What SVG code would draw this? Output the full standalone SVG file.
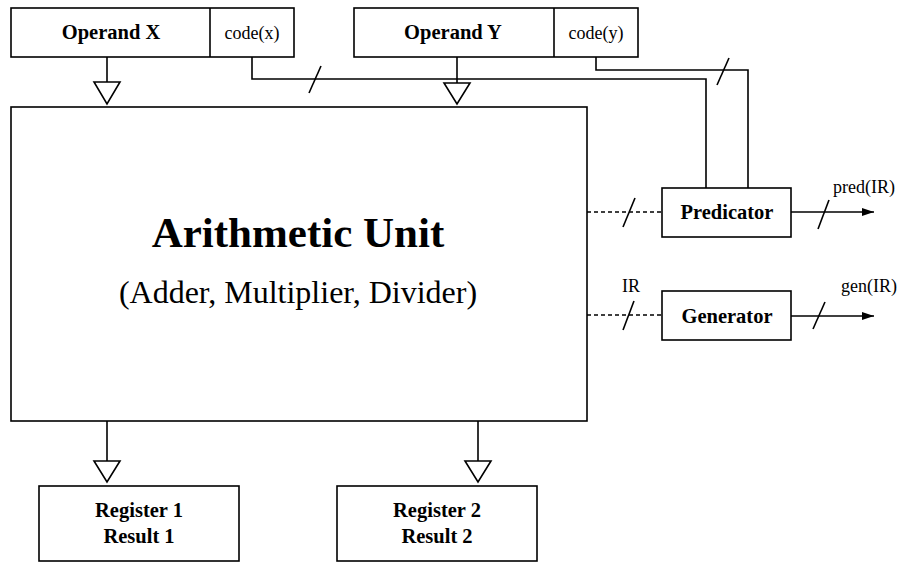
<svg xmlns="http://www.w3.org/2000/svg" width="899" height="563" viewBox="0 0 899 563">
  <style>
    .box { fill: #fff; stroke: #000; stroke-width: 1.6; }
    .ln { fill: none; stroke: #000; stroke-width: 1.6; }
    .dash { fill: none; stroke: #000; stroke-width: 1.6; stroke-dasharray: 4 3; }
    .tri { fill: #fff; stroke: #000; stroke-width: 1.6; stroke-linejoin: miter; }
    .lbl { font-family: "Liberation Serif", "Times New Roman", serif; fill: #000; text-anchor: middle; }
    .b { font-weight: bold; font-size: 20.5px; }
    .r { font-size: 18px; }
  </style>
  <defs>
    <marker id="arrow" markerWidth="12" markerHeight="10" refX="12" refY="5" orient="auto" markerUnits="userSpaceOnUse">
      <path d="M0,1 L12,5 L0,9 Z" fill="#000"/>
    </marker>
  </defs>
  <rect width="899" height="563" fill="#fff"/>

  <!-- connectors -->
  <g id="connectors">
    <!-- operand buses into the arithmetic unit -->
    <path class="ln" d="M107,57 V82"/>
    <polygon class="tri" points="94,82 120,82 107,104"/>
    <path class="ln" d="M457,57 V83"/>
    <polygon class="tri" points="444,83 470,83 457,104"/>
    <!-- code lines into the predicator -->
    <path class="ln" d="M252,57 V79 H706 V188"/>
    <path class="ln" d="M309,93 L321,66"/>
    <path class="ln" d="M596,57 V70 H748 V188"/>
    <path class="ln" d="M717,85 L729,58"/>
    <!-- dotted links from the unit -->
    <path class="dash" d="M587,212 H662"/>
    <path class="ln" d="M623,227 L635,198"/>
    <path class="dash" d="M587,315 H662"/>
    <path class="ln" d="M623,330 L634,301"/>
    <!-- outputs -->
    <path class="ln" d="M791,212 H874" marker-end="url(#arrow)"/>
    <path class="ln" d="M818,229 L829,200"/>
    <path class="ln" d="M791,316 H874" marker-end="url(#arrow)"/>
    <path class="ln" d="M813,329 L825,302"/>
    <!-- result buses -->
    <path class="ln" d="M107,421 V461"/>
    <polygon class="tri" points="94,461 120,461 107,482"/>
    <path class="ln" d="M478,421 V461"/>
    <polygon class="tri" points="465,461 491,461 478,482"/>
  </g>

  <g id="operand-x">
    <rect class="box" x="11" y="8" width="283" height="49"/>
    <path class="ln" d="M210,8 V57"/>
    <text class="lbl b" x="111" y="39">Operand X</text>
    <text class="lbl r" x="252" y="39">code(x)</text>
  </g>

  <g id="operand-y">
    <rect class="box" x="354" y="8" width="284" height="49"/>
    <path class="ln" d="M554,8 V57"/>
    <text class="lbl b" x="453" y="39">Operand Y</text>
    <text class="lbl r" x="596" y="39">code(y)</text>
  </g>

  <g id="arithmetic-unit">
    <rect class="box" x="11" y="107" width="576" height="314"/>
    <text class="lbl" x="298" y="247" font-size="43" font-weight="bold">Arithmetic Unit</text>
    <text class="lbl" x="298" y="303" font-size="32">(Adder, Multiplier, Divider)</text>
  </g>

  <g id="predicator">
    <rect class="box" x="662" y="188" width="129" height="49"/>
    <text class="lbl b" x="727" y="219">Predicator</text>
  </g>

  <g id="generator">
    <rect class="box" x="662" y="291" width="129" height="49"/>
    <text class="lbl b" x="727" y="323">Generator</text>
  </g>

  <g id="labels">
    <text class="lbl r" x="864" y="193">pred(IR)</text>
    <text class="lbl r" x="869" y="292">gen(IR)</text>
    <text class="lbl r" x="631" y="292">IR</text>
  </g>

  <g id="register-1">
    <rect class="box" x="39" y="486" width="200" height="75"/>
    <text class="lbl b" x="139" y="517">Register 1</text>
    <text class="lbl b" x="139" y="543">Result 1</text>
  </g>

  <g id="register-2">
    <rect class="box" x="337" y="486" width="200" height="75"/>
    <text class="lbl b" x="437" y="517">Register 2</text>
    <text class="lbl b" x="437" y="543">Result 2</text>
  </g>
</svg>
